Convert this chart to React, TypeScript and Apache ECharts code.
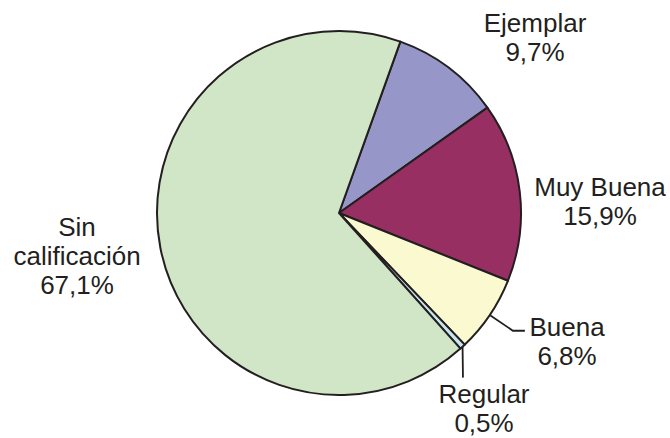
import React, { useEffect, useRef } from "react";
import * as echarts from "echarts";

const categories = ["Ejemplar", "Muy Buena", "Buena", "Regular", "Sin calificación"];
const values = [9.7, 15.9, 6.8, 0.5, 67.1];
const colors = ["#9696c8", "#982f63", "#fbf9d0", "#c8e6f0", "#d1e6c6"];
const showLeader = [false, false, true, false, false];
const verticalLeader = [false, false, false, true, false];
// label block centres (layout only)
const labelPos: [number, number][] = [
  [535, 37],
  [600, 201],
  [567, 341],
  [484, 408],
  [77, 256],
];

export default function App() {
  const ref = useRef<HTMLDivElement>(null);
  useEffect(() => {
    if (!ref.current) return;
    const chart = echarts.init(ref.current, undefined, { renderer: "svg" });
    const data = categories.map((name, i) => ({
      name,
      value: values[i],
      itemStyle: { color: colors[i] },
      labelLine: {
        show: showLeader[i] || verticalLeader[i],
        lineStyle: { color: "#231f20", width: 1.8, opacity: 1 },
      },
    }));
    chart.setOption({
      animation: false,
      backgroundColor: "#ffffff",
      series: [
        {
          type: "pie",
          center: [339, 213],
          radius: 182,
          startAngle: 70.3,
          clockwise: true,
          avoidLabelOverlap: false,
          itemStyle: { borderColor: "#231f20", borderWidth: 2 },
          emphasis: { disabled: true },
          label: {
            show: true,
            position: "outside",
            fontFamily: "Liberation Sans, Arial, sans-serif",
            fontSize: 26,
            lineHeight: 29,
            color: "#231f20",
            align: "center",
            formatter: (p: any) =>
              p.name.replace(" calificación", "\ncalificación") +
              "\n" +
              Number(p.value).toFixed(1).replace(".", ",") +
              "%",
          },
          labelLine: {
            length: 28,
            length2: 12,
            lineStyle: { color: "#231f20", width: 1.8 },
          },
          labelLayout: (params: any) => {
            const i = params.dataIndex;
            const out: any = {
              x: labelPos[i][0],
              y: labelPos[i][1],
              align: "center",
              verticalAlign: "middle",
            };
            const pts = params.labelLinePoints;
            if (pts && pts.length) {
              if (verticalLeader[i]) {
                const p0 = pts[0];
                out.labelLinePoints = [
                  [p0[0], p0[1]],
                  [p0[0] + 0.2, p0[1] + 15],
                  [p0[0] + 0.4, p0[1] + 31],
                ];
              } else {
                out.labelLinePoints = pts;
              }
            }
            return out;
          },
          data,
        },
      ],
    });
    return () => chart.dispose();
  }, []);
  return (
    <div
      ref={ref}
      style={{ position: "fixed", left: 0, top: 0, width: 670, height: 438 }}
    />
  );
}
